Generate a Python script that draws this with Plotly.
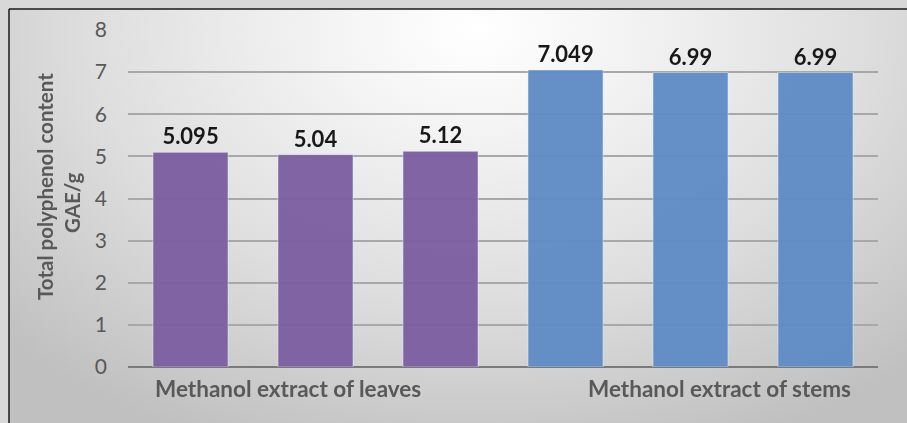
import base64
import plotly.graph_objects as go

# Data
leaf_labels = ["L1", "L2", "L3"]
stem_labels = ["S1", "S2", "S3"]
leaf_values = [5.095, 5.04, 5.12]
stem_values = [7.049, 6.99, 6.99]
leaf_text = ["5.095", "5.04", "5.12"]
stem_text = ["7.049", "6.99", "6.99"]
group_labels = ["Methanol extract of leaves", "Methanol extract of stems"]
y_title_lines = ["Total polyphenol content", "GAE/g"]
y_ticks = [0, 1, 2, 3, 4, 5, 6, 7, 8]

W, H = 907, 423
ML, MR, MT, MB = 128, 29, 30, 56
PW, PH = W - ML - MR, H - MT - MB

def px_to_paper_x(px):
    return (px - ML) / PW

def px_to_paper_y(py):
    return (H - MB - py) / PH

leaf_x = [0, 1, 2]
stem_x = [3, 4, 5]

label_font = dict(family="Lato", size=22, color="#111111", weight="bold")

fig = go.Figure()
fig.add_trace(go.Bar(
    x=leaf_x, y=leaf_values, width=0.6, marker_color="#7D5FA0", opacity=0.97,
    text=leaf_text, textposition="outside", cliponaxis=False,
    textfont=label_font, hoverinfo="skip", showlegend=False,
))
fig.add_trace(go.Bar(
    x=stem_x, y=stem_values, width=0.6, marker_color="#5F8DC6", opacity=0.97,
    text=stem_text, textposition="outside", cliponaxis=False,
    textfont=label_font, hoverinfo="skip", showlegend=False,
))

# Gradient background as SVG image
svg = (
    '<svg xmlns="http://www.w3.org/2000/svg" width="898" height="414" viewBox="0 0 898 414" preserveAspectRatio="none">'
    '<defs><radialGradient id="g" cx="0.52" cy="0.05" r="0.72" gradientUnits="objectBoundingBox" '
    'gradientTransform="translate(0.52,0.05) scale(1,1.5) translate(-0.52,-0.05)">'
    '<stop offset="0" stop-color="#ffffff"/>'
    '<stop offset="0.2" stop-color="#f5f5f5"/>'
    '<stop offset="0.6" stop-color="#dedede"/>'
    '<stop offset="1" stop-color="#c0c0c0"/>'
    '</radialGradient></defs>'
    '<rect width="898" height="414" fill="url(#g)"/></svg>'
)
src = "data:image/svg+xml;base64," + base64.b64encode(svg.encode()).decode()
fig.add_layout_image(dict(
    source=src, xref="paper", yref="paper",
    x=px_to_paper_x(9), y=px_to_paper_y(9),
    sizex=px_to_paper_x(907) - px_to_paper_x(9),
    sizey=px_to_paper_y(9) - px_to_paper_y(423),
    sizing="stretch", xanchor="left", yanchor="top", layer="below",
))

# Border lines (left and top)
fig.add_shape(type="line", xref="paper", yref="paper",
              x0=px_to_paper_x(9), x1=px_to_paper_x(907),
              y0=px_to_paper_y(9), y1=px_to_paper_y(9),
              line=dict(color="#1a1a1a", width=1.5))
fig.add_shape(type="line", xref="paper", yref="paper",
              x0=px_to_paper_x(9), x1=px_to_paper_x(9),
              y0=px_to_paper_y(9), y1=px_to_paper_y(423),
              line=dict(color="#1a1a1a", width=1.5))

# Group labels
group_font = dict(family="Lato", size=22.5, color="#595959", weight="bold")
fig.add_annotation(x=leaf_x[0] - 0.3, y=0, xref="x", yref="y", yshift=-6,
                   text=group_labels[0], showarrow=False, xanchor="left", yanchor="top",
                   font=group_font)
fig.add_annotation(x=stem_x[-1] + 0.3, y=0, xref="x", yref="y", yshift=-6,
                   text=group_labels[1], showarrow=False, xanchor="right", yanchor="top",
                   font=group_font)

# Y axis title (two rotated lines)
title_font = dict(family="Lato", size=20.5, color="#595959", weight="bold")
fig.add_annotation(x=px_to_paper_x(45), y=px_to_paper_y(187), xref="paper", yref="paper",
                   text=y_title_lines[0], textangle=-90, showarrow=False,
                   xanchor="center", yanchor="middle", font=title_font)
fig.add_annotation(x=px_to_paper_x(72), y=px_to_paper_y(203), xref="paper", yref="paper",
                   text=y_title_lines[1], textangle=-90, showarrow=False,
                   xanchor="center", yanchor="middle", font=title_font)

fig.update_layout(
    width=W, height=H,
    margin=dict(l=ML, r=MR, t=MT, b=MB),
    paper_bgcolor="#d8d8d8",
    plot_bgcolor="rgba(0,0,0,0)",
    barmode="overlay",
    xaxis=dict(range=[-0.5, 5.5], showticklabels=False, showgrid=False,
               zeroline=False, showline=False, ticks=""),
    yaxis=dict(range=[0, 8], tickvals=y_ticks, showgrid=True, gridcolor="#a8a8a8",
               gridwidth=1.5, zeroline=True, zerolinecolor="#7a7a7a", zerolinewidth=2,
               showline=False, ticks="", ticklabelstandoff=20,
               tickfont=dict(family="Lato", size=21, color="#595959")),
    font=dict(family="Lato"),
)

fig.write_html("out.html")
